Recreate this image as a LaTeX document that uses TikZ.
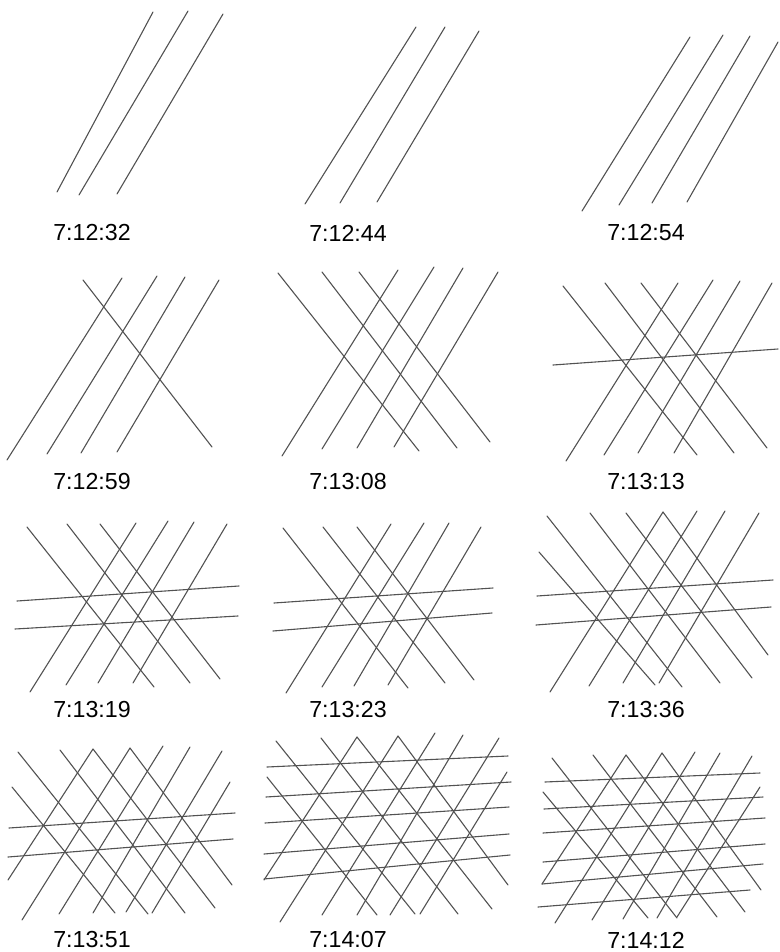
\documentclass[tikz,border=0pt]{standalone}
\usepackage{fontspec}
\setmainfont{Liberation Sans}
\usepackage{tikz}

\begin{document}
\begin{tikzpicture}[
    x=0.5pt, y=-0.5pt,
    strand/.style={draw=black!68, line width=0.55pt, line cap=round},
    stamp/.style={font=\fontsize{11.6}{14}\selectfont, inner sep=0pt, anchor=center}
]
\useasboundingbox (0,0) rectangle (780,952);

% time stamps
\node[stamp] (lbl1)  at (92,233)  {7:12:32};
\node[stamp] (lbl2)  at (348,233) {7:12:44};
\node[stamp] (lbl3)  at (646,233) {7:12:54};
\node[stamp] (lbl4)  at (92,482)  {7:12:59};
\node[stamp] (lbl5)  at (348,482) {7:13:08};
\node[stamp] (lbl6)  at (646,482) {7:13:13};
\node[stamp] (lbl7)  at (92,710)  {7:13:19};
\node[stamp] (lbl8)  at (348,710) {7:13:23};
\node[stamp] (lbl9)  at (646,710) {7:13:36};
\node[stamp] (lbl10) at (92,940)  {7:13:51};
\node[stamp] (lbl11) at (348,940) {7:14:07};
\node[stamp] (lbl12) at (646,940) {7:14:12};

% row 1
\foreach \xa/\ya/\xb/\yb in {153/12/57/192, 188/11/79/195, 223/14/117/194,
    416/27/305/204, 445/27/340/203, 479/31/377/202,
    690/37/582/211, 723/35/619/205, 750/36/652/203, 778/42/687/202}
    \draw[strand] (\xa,\ya) -- (\xb,\yb);

% row 2
\foreach \xa/\ya/\xb/\yb in {122/278/7/460, 157/276/47/454, 185/277/81/453, 219/280/117/452,
    83/280/212/447,
    278/273/419/451, 322/272/457/448, 359/272/490/442,
    398/270/282/456, 434/267/322/449, 463/268/357/448, 498/272/394/447,
    563/286/697/455, 605/283/734/453, 641/283/767/448,
    678/283/566/461, 713/280/604/455, 740/281/638/453, 772/283/674/453,
    553/365/778/349}
    \draw[strand] (\xa,\ya) -- (\xb,\yb);

% row 3
\foreach \xa/\ya/\xb/\yb in {27/527/154/687, 67/524/190/683, 100/524/220/679,
    136/523/30/692, 168/521/66/685, 194/522/98/683, 227/524/133/683,
    17/601/239/586, 15/629/238/616,
    283/528/408/688, 323/527/445/683, 357/527/474/680,
    391/524/286/693, 424/523/322/687, 449/523/354/686, 481/527/388/685,
    274/603/493/588, 273/631/492/613,
    539/552/655/685, 547/516/682/687, 590/513/720/683, 626/513/752/678, 663/512/768/655,
    663/512/550/692, 697/511/589/686, 725/511/623/683, 759/513/659/683,
    537/596/773/580, 536/625/771/607}
    \draw[strand] (\xa,\ya) -- (\xb,\yb);

% row 4
\foreach \xa/\ya/\xb/\yb in {18/752/148/914, 60/750/185/913, 93/749/215/908, 130/748/232/885, 12/787/115/913,
    93/749/8/880, 130/748/22/920, 163/746/59/914, 190/747/93/913, 222/751/126/912, 230/782/152/913,
    9/828/235/813, 8/857/233/839,
    267/777/377/915, 276/741/415/914, 321/738/458/914, 357/737/492/909, 398/736/508/885,
    357/737/264/880, 398/736/280/922, 435/733/322/915, 463/735/357/915, 499/738/390/915, 507/772/420/914,
    267/767/508/756, 266/797/511/782, 265/823/509/807, 264/854/509/834, 264/879/510/855,
    552/758/677/918, 593/755/717/917, 626/755/745/912, 662/753/761/890, 543/792/648/918,
    626/755/542/884, 662/753/555/923, 695/752/592/920, 720/753/623/919, 752/756/657/918, 760/787/677/917,
    545/782/760/773, 544/809/763/797, 543/833/765/818, 543/862/765/844, 542/884/763/864, 538/907/750/890}
    \draw[strand] (\xa,\ya) -- (\xb,\yb);
\end{tikzpicture}
\end{document}
